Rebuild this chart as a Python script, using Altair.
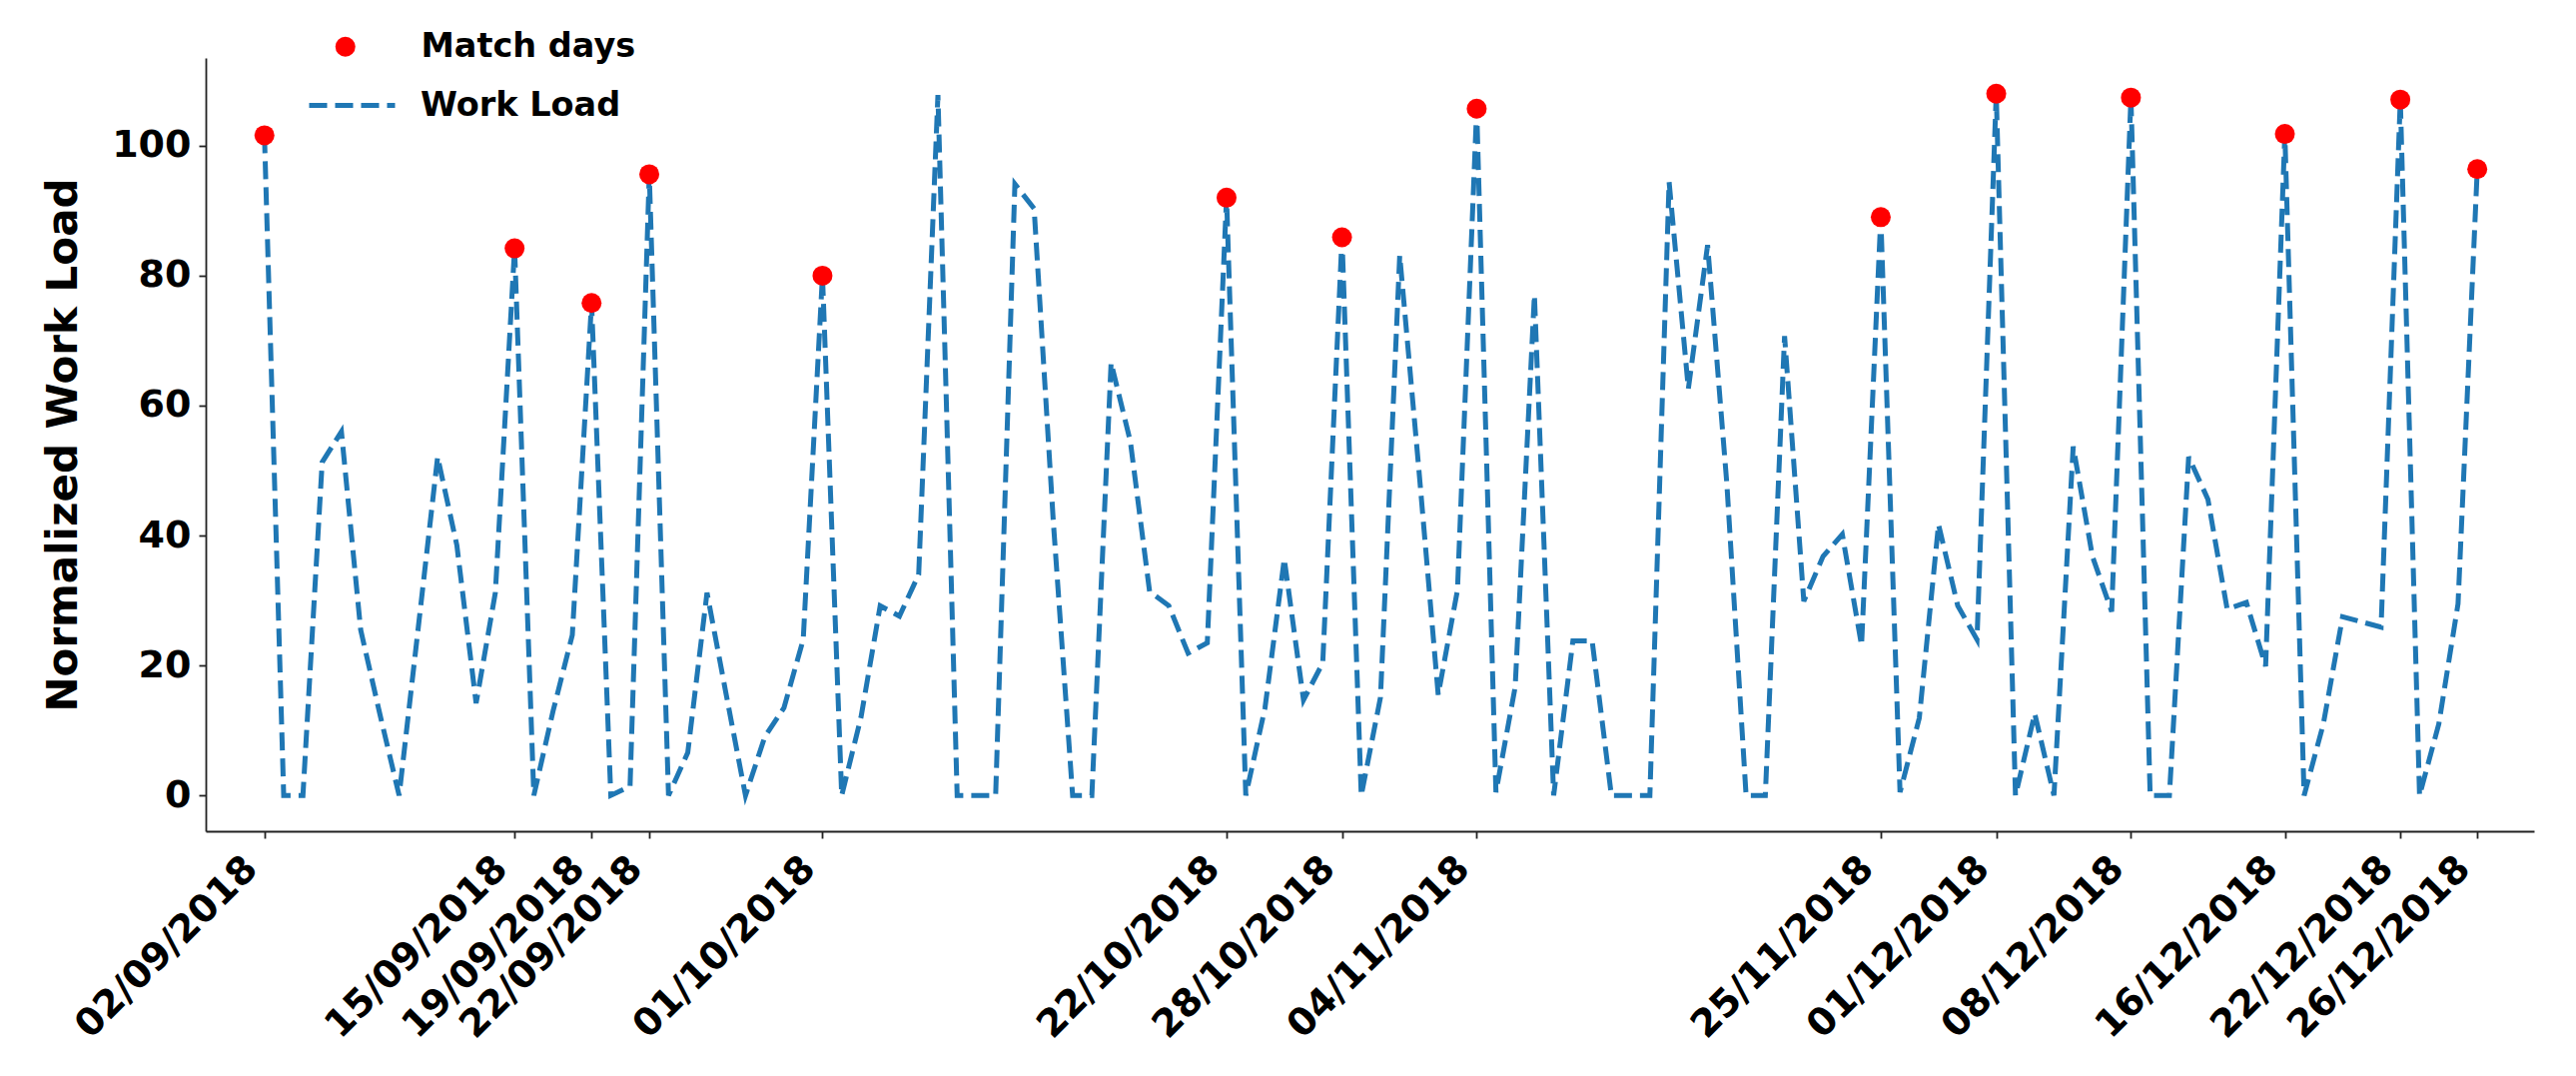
import altair as alt
import pandas as pd

# ---- data ----
start_date = "2018-09-02"

work_load = [
    101.6, 0, 0, 51.3, 56.0, 25.5, 12.5, 0, 26, 52.1,
    38.5, 14.2, 31.2, 84.2, 0, 13, 24.7, 75.8, 0, 1.4,
    95.6, 0, 6.6, 31.2, 15.5, 0, 9.0, 13.5, 24, 80.0,
    0, 12, 29.2, 27.6, 34.0, 107.8, 0, 0, 0, 94.1,
    90.3, 42, 0, 0, 66.6, 54.5, 31.4, 29.2, 21.9, 23.5,
    92.0, 0, 13.5, 36.4, 14.7, 20.4, 85.9, 0, 15.1, 83.1,
    50, 15.5, 31.6, 105.7, 0.5, 16.7, 77.0, 0, 23.8, 23.8,
    0, 0, 0, 94.4, 62.6, 84.7, 48, 0, 0, 70.7,
    29.9, 36.8, 40.2, 23.1, 89.0, 0.5, 11.9, 41.7, 29.2, 24.0,
    108.0, 0, 12.6, 0, 53.7, 36.8, 28.3, 107.4, 0, 0,
    52.1, 45.6, 28.7, 29.7, 19.9, 101.8, 0, 11, 27.5, 26.7,
    25.9, 107.1, 0, 11.0, 29.5, 96.4,
]

match_dates = [
    "02/09/2018", "15/09/2018", "19/09/2018", "22/09/2018", "01/10/2018",
    "22/10/2018", "28/10/2018", "04/11/2018", "25/11/2018", "01/12/2018",
    "08/12/2018", "16/12/2018", "22/12/2018", "26/12/2018",
]

y_ticks = [0, 20, 40, 60, 80, 100]
marker_label = "Match days"
line_label = "Work Load"
y_title = "Normalized Work Load"

# ---- tables ----
start = pd.Timestamp(start_date)
day_index = list(range(len(work_load)))
line_df = pd.DataFrame({"day": day_index, "load": work_load, "lineName": line_label})

match_idx = [(pd.to_datetime(d, format="%d/%m/%Y") - start).days for d in match_dates]
pts_df = pd.DataFrame({
    "day": match_idx,
    "load": [work_load[i] for i in match_idx],
    "marker": marker_label,
})

FONT = "DejaVu Sans"
label_expr = (
    f"timeFormat(datetime({start.year}, {start.month - 1}, {start.day} + datum.value), '%d/%m/%Y')"
)

x_enc = alt.X(
    "day:Q",
    scale=alt.Scale(domain=[-3.05, 117.95], nice=False, zero=False),
    axis=alt.Axis(
        values=match_idx,
        labelExpr=label_expr,
        labelAngle=315,
        labelAlign="right",
        labelBaseline="bottom",
        labelPadding=38,
        labelLimit=0,
        labelOverlap=False,
        labelFlush=False,
        labelBound=False,
        labelFont=FONT,
        labelFontWeight="bold",
        labelFontSize=38,
        labelColor="black",
        tickSize=7,
        tickWidth=1.8,
        tickColor="#222222",
        domainColor="#222222",
        domainWidth=1.8,
        grid=False,
        title=None,
    ),
)

y_enc = alt.Y(
    "load:Q",
    scale=alt.Scale(domain=[-5.5, 113.5], nice=False, zero=False),
    axis=alt.Axis(
        values=y_ticks,
        labelFont=FONT,
        labelFontWeight="bold",
        labelFontSize=38,
        labelColor="black",
        labelPadding=8,
        labelLimit=0,
        tickSize=7,
        tickWidth=1.8,
        tickColor="#222222",
        domainColor="#222222",
        domainWidth=1.8,
        grid=False,
        title=y_title,
        titleFont=FONT,
        titleFontWeight="bold",
        titleFontSize=42,
        titleColor="black",
        titlePadding=26,
    ),
)

line = alt.Chart(line_df).mark_line(
    color="#1f77b4", strokeWidth=5, strokeCap="butt"
).encode(
    x=x_enc,
    y=y_enc,
    strokeDash=alt.StrokeDash(
        "lineName:N",
        scale=alt.Scale(domain=[line_label], range=[[18, 8]]),
        legend=alt.Legend(
            title=None,
            orient="none",
            legendX=101,
            legendY=2,
            padding=0,
            symbolType="stroke",
            symbolSize=7396,
            symbolStrokeColor="#1f77b4",
            symbolStrokeWidth=5,
            labelOffset=23,
            labelLimit=0,
            labelFont=FONT,
            labelFontWeight="bold",
            labelFontSize=33.5,
            labelColor="black",
        ),
    ),
)

points = alt.Chart(pts_df).mark_point(
    filled=True, size=400, opacity=1
).encode(
    x="day:Q",
    y="load:Q",
    color=alt.Color(
        "marker:N",
        scale=alt.Scale(domain=[marker_label], range=["#ff0000"]),
        legend=alt.Legend(
            title=None,
            orient="none",
            legendX=123,
            legendY=-28,
            padding=0,
            symbolType="circle",
            symbolSize=400,
            symbolStrokeWidth=0,
            symbolOpacity=1,
            labelOffset=59,
            labelLimit=0,
            labelFont=FONT,
            labelFontWeight="bold",
            labelFontSize=33.5,
            labelColor="black",
        ),
    ),
)

chart = alt.layer(line, points).resolve_legend(
    color="independent", strokeDash="independent"
).properties(
    width=2331,
    height=774,
    background="white",
    autosize=alt.AutoSizeParams(type="none"),
    padding={"left": 198, "top": 50, "right": 20, "bottom": 220},
).configure_view(strokeWidth=0, stroke=None)

chart.save("out.html", embed_options={"renderer": "svg", "actions": False})
